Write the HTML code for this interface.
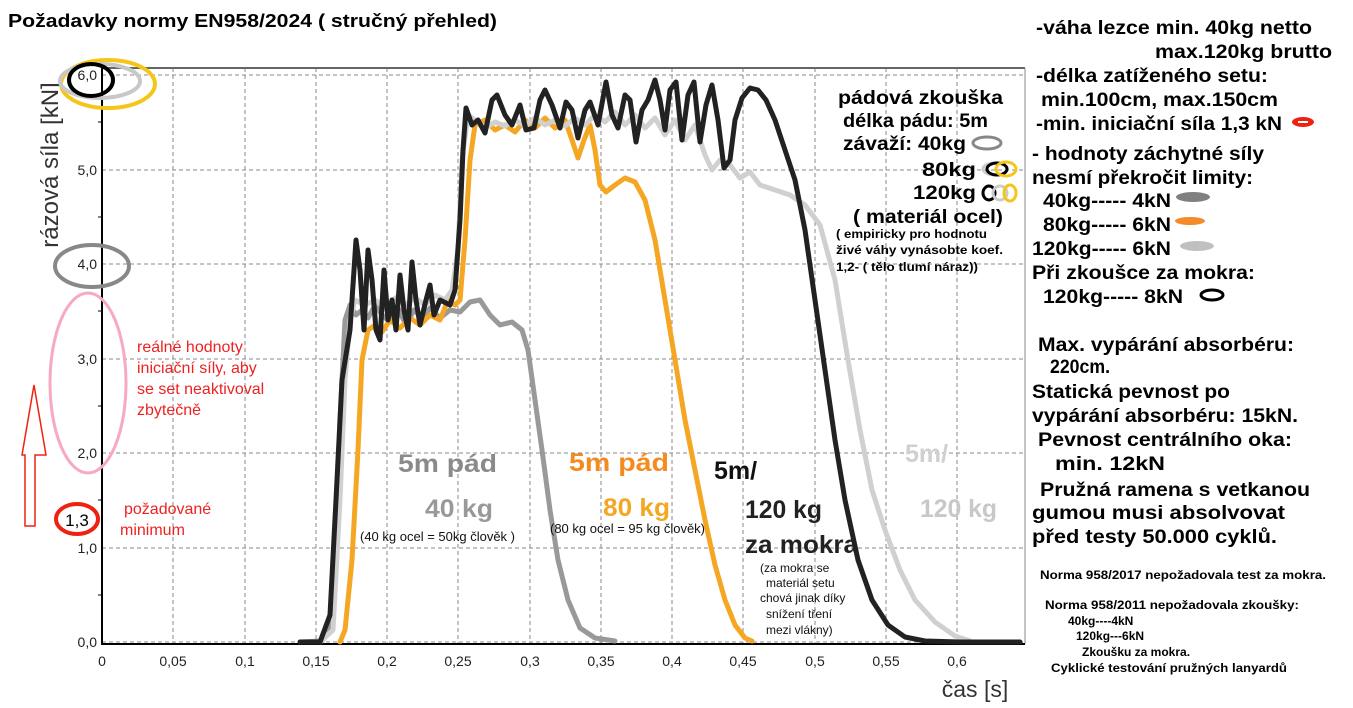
<!DOCTYPE html>
<html><head><meta charset="utf-8"><style>
body{margin:0;background:#fff;width:1353px;height:708px;overflow:hidden}
svg{display:block}
text{font-family:"Liberation Sans",sans-serif}
.b{font-weight:bold}
</style></head><body>
<svg width="1353" height="708" viewBox="0 0 1353 708" xmlns="http://www.w3.org/2000/svg">
<g stroke="#888" stroke-width="1" stroke-dasharray="4,3" fill="none">
<line x1="102" y1="75" x2="1025" y2="75"/>
<line x1="102" y1="170" x2="1025" y2="170"/>
<line x1="102" y1="264" x2="1025" y2="264"/>
<line x1="102" y1="359" x2="1025" y2="359"/>
<line x1="102" y1="453" x2="1025" y2="453"/>
<line x1="102" y1="548" x2="1025" y2="548"/>
<line x1="102" y1="642" x2="1025" y2="642"/>
<line x1="173" y1="68" x2="173" y2="644"/>
<line x1="245" y1="68" x2="245" y2="644"/>
<line x1="316" y1="68" x2="316" y2="644"/>
<line x1="387" y1="68" x2="387" y2="644"/>
<line x1="458" y1="68" x2="458" y2="644"/>
<line x1="530" y1="68" x2="530" y2="644"/>
<line x1="601" y1="68" x2="601" y2="644"/>
<line x1="672" y1="68" x2="672" y2="644"/>
<line x1="743" y1="68" x2="743" y2="644"/>
<line x1="815" y1="68" x2="815" y2="644"/>
<line x1="886" y1="68" x2="886" y2="644"/>
<line x1="957" y1="68" x2="957" y2="644"/>
</g>
<line x1="102" y1="68" x2="1025" y2="68" stroke="#666" stroke-width="2"/>
<line x1="1025" y1="68" x2="1025" y2="644" stroke="#888" stroke-width="1"/>
<line x1="102" y1="68" x2="102" y2="645" stroke="#000" stroke-width="2"/>
<line x1="101" y1="644" x2="1025" y2="644" stroke="#000" stroke-width="2"/>
<g stroke="#000" stroke-width="1">
<line x1="98" y1="122" x2="102" y2="122"/><line x1="98" y1="217" x2="102" y2="217"/><line x1="98" y1="311" x2="102" y2="311"/><line x1="98" y1="406" x2="102" y2="406"/><line x1="98" y1="500" x2="102" y2="500"/><line x1="98" y1="595" x2="102" y2="595"/>
</g>
<g font-size="14" fill="#222" text-anchor="end">
<text x="97" y="80">6,0</text><text x="97" y="175">5,0</text><text x="97" y="269">4,0</text><text x="97" y="364">3,0</text><text x="97" y="458">2,0</text><text x="97" y="553">1,0</text><text x="97" y="647">0,0</text>
</g>
<g font-size="14" fill="#222" text-anchor="middle">
<text x="102" y="666">0</text><text x="173" y="666">0,05</text><text x="245" y="666">0,1</text><text x="316" y="666">0,15</text><text x="387" y="666">0,2</text><text x="458" y="666">0,25</text><text x="530" y="666">0,3</text><text x="601" y="666">0,35</text><text x="672" y="666">0,4</text><text x="743" y="666">0,45</text><text x="815" y="666">0,5</text><text x="886" y="666">0,55</text><text x="957" y="666">0,6</text>
</g>
<text x="975" y="697" font-size="23" fill="#333" text-anchor="middle">čas [s]</text>
<text transform="translate(58,165) rotate(-90)" font-size="24" fill="#333" text-anchor="middle">rázová síla [kN]</text>
<text x="8" y="27" font-size="18" class="b" textLength="489" lengthAdjust="spacingAndGlyphs">Požadavky normy EN958/2024 ( stručný přehled)</text>

<g fill="none" stroke-linejoin="round" stroke-linecap="round" stroke-width="5">
<polyline stroke="#999" points="300,642 322,641 330,630 336,560 340,420 345,320 350,305 356,315 362,310 368,318 375,305 382,315 390,322 398,308 406,325 414,310 422,318 430,308 440,318 450,310 460,312 470,302 480,300 490,315 500,325 512,322 522,330 528,350 535,400 542,450 550,510 558,560 568,600 580,628 595,638 615,641"/>
<polyline stroke="#f5a623" points="340,642 345,630 352,560 358,450 362,360 368,330 375,325 382,332 390,320 400,328 410,318 420,325 430,315 440,320 448,300 455,305 460,300 465,240 470,160 475,125 485,120 495,130 505,125 515,132 525,120 535,128 545,118 555,128 565,120 572,140 578,158 584,140 590,125 595,150 600,185 606,192 615,185 625,178 635,182 645,200 655,240 665,300 675,360 685,420 695,470 705,520 715,565 725,600 735,625 745,638 752,641"/>
<polyline stroke="#d0d0d0" points="320,642 333,630 340,500 345,380 350,320 355,300 365,305 375,300 385,308 395,298 405,305 415,298 425,305 435,295 445,300 452,290 458,250 462,160 468,115 475,120 485,128 495,122 505,126 515,120 525,126 535,118 545,125 555,120 565,126 575,118 585,125 595,115 605,122 615,112 625,125 635,115 645,128 655,118 665,135 675,120 685,140 695,125 705,155 712,170 720,160 730,165 740,178 750,172 760,185 775,190 790,195 805,205 820,225 835,280 848,360 860,430 872,490 885,530 900,570 915,600 935,622 955,636 970,641"/>
<polyline stroke="#222" points="300,642 320,642 330,615 336,500 342,380 350,330 356,240 360,270 364,330 368,250 372,280 376,330 380,340 384,270 388,320 392,300 396,330 400,275 404,310 408,330 412,262 416,300 420,325 426,300 430,285 434,315 440,300 450,305 455,290 460,220 463,150 466,108 472,125 478,120 485,133 492,100 497,95 505,115 512,125 520,105 526,130 534,128 540,100 545,90 552,105 560,128 566,102 572,110 578,138 585,110 590,102 598,125 606,82 612,115 618,128 625,95 630,100 636,142 642,110 648,100 655,80 660,100 665,130 670,90 676,82 682,140 688,95 694,82 700,142 706,105 712,85 718,120 724,168 730,160 735,120 742,98 750,88 758,90 766,100 775,120 785,150 795,180 805,230 815,300 825,370 835,440 845,500 858,560 872,600 888,625 905,637 925,641 960,642 1020,642"/>
</g>

<ellipse cx="108" cy="84" rx="47" ry="24" fill="none" stroke="#f5c518" stroke-width="4"/>
<ellipse cx="100" cy="81" rx="40" ry="17" fill="none" stroke="#c8c8c8" stroke-width="4"/>
<ellipse cx="91" cy="80" rx="22" ry="16" fill="none" stroke="#000" stroke-width="4"/>
<ellipse cx="92" cy="266" rx="37" ry="21" fill="none" stroke="#888" stroke-width="4"/>
<ellipse cx="88" cy="383" rx="38" ry="90" fill="none" stroke="#f7a8c4" stroke-width="3"/>
<ellipse cx="77" cy="519" rx="21" ry="15" fill="none" stroke="#e21" stroke-width="4"/>
<text x="77" y="526" font-size="17" text-anchor="middle">1,3</text>
<polygon points="25,526 35,526 35,455 46,455 34,385 22,455 25,455" fill="none" stroke="#e21" stroke-width="1.5"/>
<g font-size="16" fill="#e22">
<text x="137" y="352">reálné hodnoty</text><text x="137" y="373">iniciační síly, aby</text><text x="137" y="394">se set neaktivoval</text><text x="137" y="415">zbytečně</text>
<text x="124" y="514">požadované</text><text x="120" y="535">minimum</text>
</g>

<g class="b" font-size="25">
<text x="398" y="472" fill="#8a8a8a" textLength="99" lengthAdjust="spacingAndGlyphs">5m pád</text>
<text x="425" y="517" fill="#999" textLength="68" lengthAdjust="spacingAndGlyphs">40 kg</text>
<text x="569" y="471" fill="#f58a1f" textLength="100" lengthAdjust="spacingAndGlyphs">5m pád</text>
<text x="603" y="516" fill="#f5a623" textLength="67" lengthAdjust="spacingAndGlyphs">80 kg</text>
<text x="714" y="479" fill="#111">5m/</text>
<text x="745" y="518" fill="#222" textLength="77" lengthAdjust="spacingAndGlyphs">120 kg</text>
<text x="745" y="553" fill="#222" textLength="113" lengthAdjust="spacingAndGlyphs">za mokra</text>
<text x="905" y="462" fill="#d0d0d0">5m/</text>
<text x="920" y="517" fill="#c8c8c8" textLength="77" lengthAdjust="spacingAndGlyphs">120 kg</text>
</g>
<g font-size="13" fill="#111">
<text x="360" y="541">(40 kg ocel =  50kg člověk )</text>
<text x="550" y="533">(80 kg ocel = 95 kg člověk)</text>
</g>
<g font-size="12" fill="#111">
<text x="760" y="572">(za mokra se</text><text x="766" y="587">materiál setu</text><text x="760" y="602">chová jinak díky</text><text x="766" y="618">snížení tření</text><text x="766" y="634">mezi vlákny)</text>
</g>
<g class="b" font-size="19" fill="#000">
<text x="838" y="104" textLength="165" lengthAdjust="spacingAndGlyphs">pádová zkouška</text>
<text x="843" y="127" textLength="145" lengthAdjust="spacingAndGlyphs">délka pádu: 5m</text>
<text x="843" y="150" textLength="123" lengthAdjust="spacingAndGlyphs">závaží: 40kg</text>
<text x="922" y="176" textLength="54" lengthAdjust="spacingAndGlyphs">80kg</text>
<text x="913" y="199" textLength="63" lengthAdjust="spacingAndGlyphs">120kg</text>
<text x="853" y="223" textLength="150" lengthAdjust="spacingAndGlyphs">( materiál ocel)</text>
</g>
<ellipse cx="987" cy="143" rx="14" ry="6" fill="none" stroke="#888" stroke-width="3"/>
<ellipse cx="995" cy="169" rx="12" ry="6" fill="none" stroke="#ccc" stroke-width="3"/>
<ellipse cx="997" cy="169" rx="10" ry="6" fill="none" stroke="#000" stroke-width="3"/>
<ellipse cx="1006" cy="169" rx="10" ry="7" fill="none" stroke="#f5c518" stroke-width="3"/>
<ellipse cx="989" cy="193" rx="6" ry="7" fill="none" stroke="#000" stroke-width="3"/>
<ellipse cx="1000" cy="193" rx="7" ry="7" fill="none" stroke="#ccc" stroke-width="3"/>
<ellipse cx="1010" cy="193" rx="6" ry="8" fill="none" stroke="#f5c518" stroke-width="3"/>
<g class="b" font-size="12" fill="#000">
<text x="836" y="238" textLength="151" lengthAdjust="spacingAndGlyphs">( empiricky pro hodnotu</text><text x="836" y="254" textLength="167" lengthAdjust="spacingAndGlyphs">živé váhy vynásobte  koef.</text><text x="836" y="271" textLength="142" lengthAdjust="spacingAndGlyphs">1,2- ( tělo tlumí náraz))</text>
</g>

<g class="b" font-size="19" fill="#000">
<text x="1036" y="34" textLength="276" lengthAdjust="spacingAndGlyphs">-váha lezce min. 40kg netto</text>
<text x="1155" y="58" textLength="177" lengthAdjust="spacingAndGlyphs">max.120kg brutto</text>
<text x="1036" y="82" textLength="232" lengthAdjust="spacingAndGlyphs">-délka zatíženého setu:</text>
<text x="1041" y="106" textLength="237" lengthAdjust="spacingAndGlyphs">min.100cm, max.150cm</text>
<text x="1036" y="130" textLength="246" lengthAdjust="spacingAndGlyphs">-min. iniciační síla 1,3 kN</text>
<text x="1032" y="160" textLength="232" lengthAdjust="spacingAndGlyphs">- hodnoty záchytné síly</text>
<text x="1032" y="184" textLength="221" lengthAdjust="spacingAndGlyphs">nesmí překročit limity:</text>
<text x="1043" y="207" textLength="128" lengthAdjust="spacingAndGlyphs">40kg----- 4kN</text>
<text x="1043" y="231" textLength="128" lengthAdjust="spacingAndGlyphs">80kg----- 6kN</text>
<text x="1032" y="255" textLength="139" lengthAdjust="spacingAndGlyphs">120kg----- 6kN</text>
<text x="1032" y="279" textLength="223" lengthAdjust="spacingAndGlyphs">Při zkoušce za mokra:</text>
<text x="1043" y="303" textLength="140" lengthAdjust="spacingAndGlyphs">120kg----- 8kN</text>
<text x="1038" y="351" textLength="256" lengthAdjust="spacingAndGlyphs">Max. vypárání absorbéru:</text>
<text x="1050" y="373" textLength="60" lengthAdjust="spacingAndGlyphs">220cm.</text>
<text x="1032" y="398" textLength="198" lengthAdjust="spacingAndGlyphs">Statická pevnost po</text>
<text x="1032" y="422" textLength="266" lengthAdjust="spacingAndGlyphs">vypárání absorbéru: 15kN.</text>
<text x="1038" y="446" textLength="254" lengthAdjust="spacingAndGlyphs">Pevnost centrálního oka:</text>
<text x="1055" y="470" textLength="110" lengthAdjust="spacingAndGlyphs">min.   12kN</text>
<text x="1040" y="496" textLength="270" lengthAdjust="spacingAndGlyphs">Pružná ramena s vetkanou</text>
<text x="1032" y="519" textLength="253" lengthAdjust="spacingAndGlyphs">gumou musi  absolvovat</text>
<text x="1032" y="543" textLength="245" lengthAdjust="spacingAndGlyphs">před testy  50.000 cyklů.</text>
</g>
<ellipse cx="1303" cy="122" rx="11" ry="5" fill="#e21"/>
<rect x="1298" y="121" width="10" height="2" fill="#fff"/>
<ellipse cx="1193" cy="197" rx="17" ry="5" fill="#808080"/>
<ellipse cx="1190" cy="221" rx="15" ry="4" fill="#f58a2a"/>
<ellipse cx="1197" cy="246" rx="17" ry="5" fill="#c0c0c0"/>
<ellipse cx="1212" cy="295" rx="11" ry="5" fill="none" stroke="#000" stroke-width="3"/>
<g class="b" font-size="12" fill="#000">
<text x="1040" y="579" textLength="286" lengthAdjust="spacingAndGlyphs">Norma 958/2017 nepožadovala test za mokra.</text>
<text x="1045" y="609" textLength="254" lengthAdjust="spacingAndGlyphs">Norma 958/2011 nepožadovala  zkoušky:</text>
<text x="1068" y="625">40kg----4kN</text>
<text x="1076" y="640">120kg---6kN</text>
<text x="1082" y="656">Zkoušku za mokra.</text>
<text x="1051" y="672" textLength="236" lengthAdjust="spacingAndGlyphs">Cyklické testování pružných lanyardů</text>
</g>
</svg>
</body></html>
